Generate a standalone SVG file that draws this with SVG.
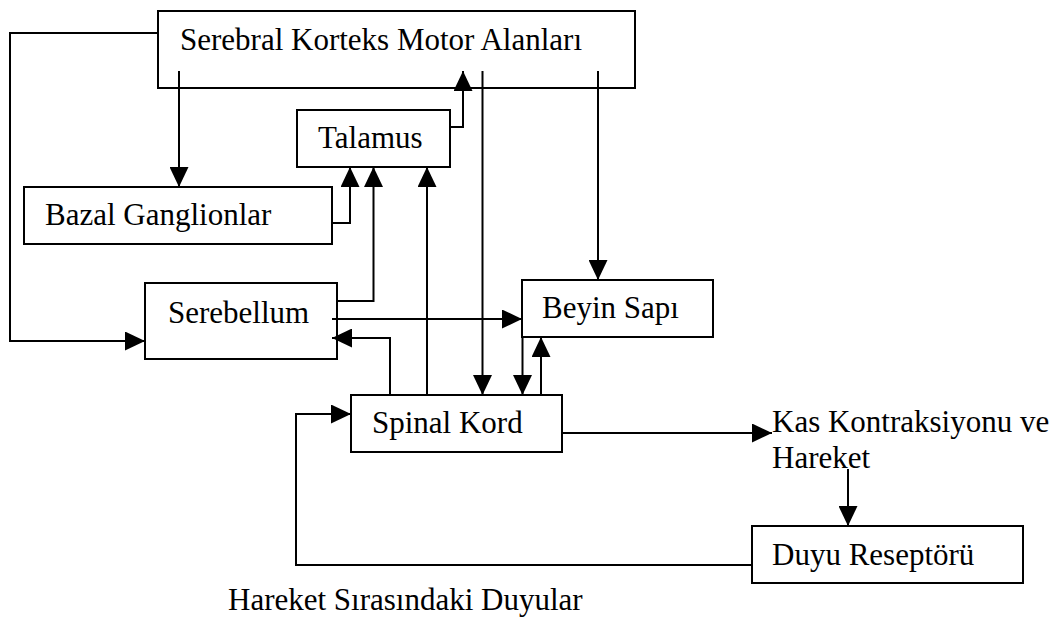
<svg xmlns="http://www.w3.org/2000/svg" width="1062" height="633" viewBox="0 0 1062 633">
<style>
  .box{fill:#fff;stroke:#000;stroke-width:2}
  .lbl{font-family:"Liberation Serif","Times New Roman",serif;font-size:31px;fill:#000}
  .c{fill:none;stroke:#000;stroke-width:2}
  .a{marker-end:url(#ah)}
</style>
<defs>
  <marker id="ah" viewBox="0 0 20 19" refX="20" refY="9.5" markerWidth="20" markerHeight="19" markerUnits="userSpaceOnUse" orient="auto">
    <path d="M0,0 L20,9.5 L0,19 z" fill="#000"/>
  </marker>
</defs>
<rect width="1062" height="633" fill="#fff"/>
<g id="n-cortex"><rect class="box" x="158" y="11" width="477" height="77"/><text class="lbl" x="180" y="50">Serebral Korteks Motor Alanları</text></g>
<g id="n-talamus"><rect class="box" x="297" y="110" width="153" height="57"/><text class="lbl" x="318" y="148">Talamus</text></g>
<g id="n-bazal"><rect class="box" x="24" y="187" width="308" height="57"/><text class="lbl" x="45" y="225">Bazal Ganglionlar</text></g>
<g id="n-serebellum"><rect class="box" x="145" y="283" width="192" height="76"/><text class="lbl" x="168" y="323">Serebellum</text></g>
<g id="n-beyin"><rect class="box" x="522" y="280" width="191" height="57"/><text class="lbl" x="542" y="318">Beyin Sapı</text></g>
<g id="n-spinal"><rect class="box" x="351" y="395" width="211" height="57"/><text class="lbl" x="372" y="433">Spinal Kord</text></g>
<g id="n-kas"><text class="lbl" x="772" y="432">Kas Kontraksiyonu ve</text><text class="lbl" x="772" y="468">Hareket</text></g>
<g id="n-duyu"><rect class="box" x="752" y="526" width="271" height="57"/><text class="lbl" x="772" y="565">Duyu Reseptörü</text></g>
<g id="n-caption"><text class="lbl" x="228" y="610">Hareket Sırasındaki Duyular</text></g>
<g id="connectors">
  <polyline class="c a" points="158,33 10,33 10,341 145,341"/>
  <polyline class="c a" points="179,71 179,187"/>
  <polyline class="c a" points="450,127 463,127 463,71"/>
  <polyline class="c a" points="482.5,71 482.5,395"/>
  <polyline class="c a" points="598,71 598,280"/>
  <polyline class="c a" points="332,223 350,223 350,167"/>
  <polyline class="c a" points="337,301 373.5,301 373.5,167"/>
  <polyline class="c a" points="427,395 427,167"/>
  <polyline class="c a" points="332,319 522,319"/>
  <polyline class="c a" points="390,395 390,338 332,338"/>
  <polyline class="c a" points="522.5,337 522.5,395"/>
  <polyline class="c a" points="541,395 541,337"/>
  <polyline class="c a" points="562,433 772,433"/>
  <polyline class="c a" points="848,469 848,526"/>
  <polyline class="c a" points="752,565 296,565 296,414 351,414"/>
</g>
</svg>
